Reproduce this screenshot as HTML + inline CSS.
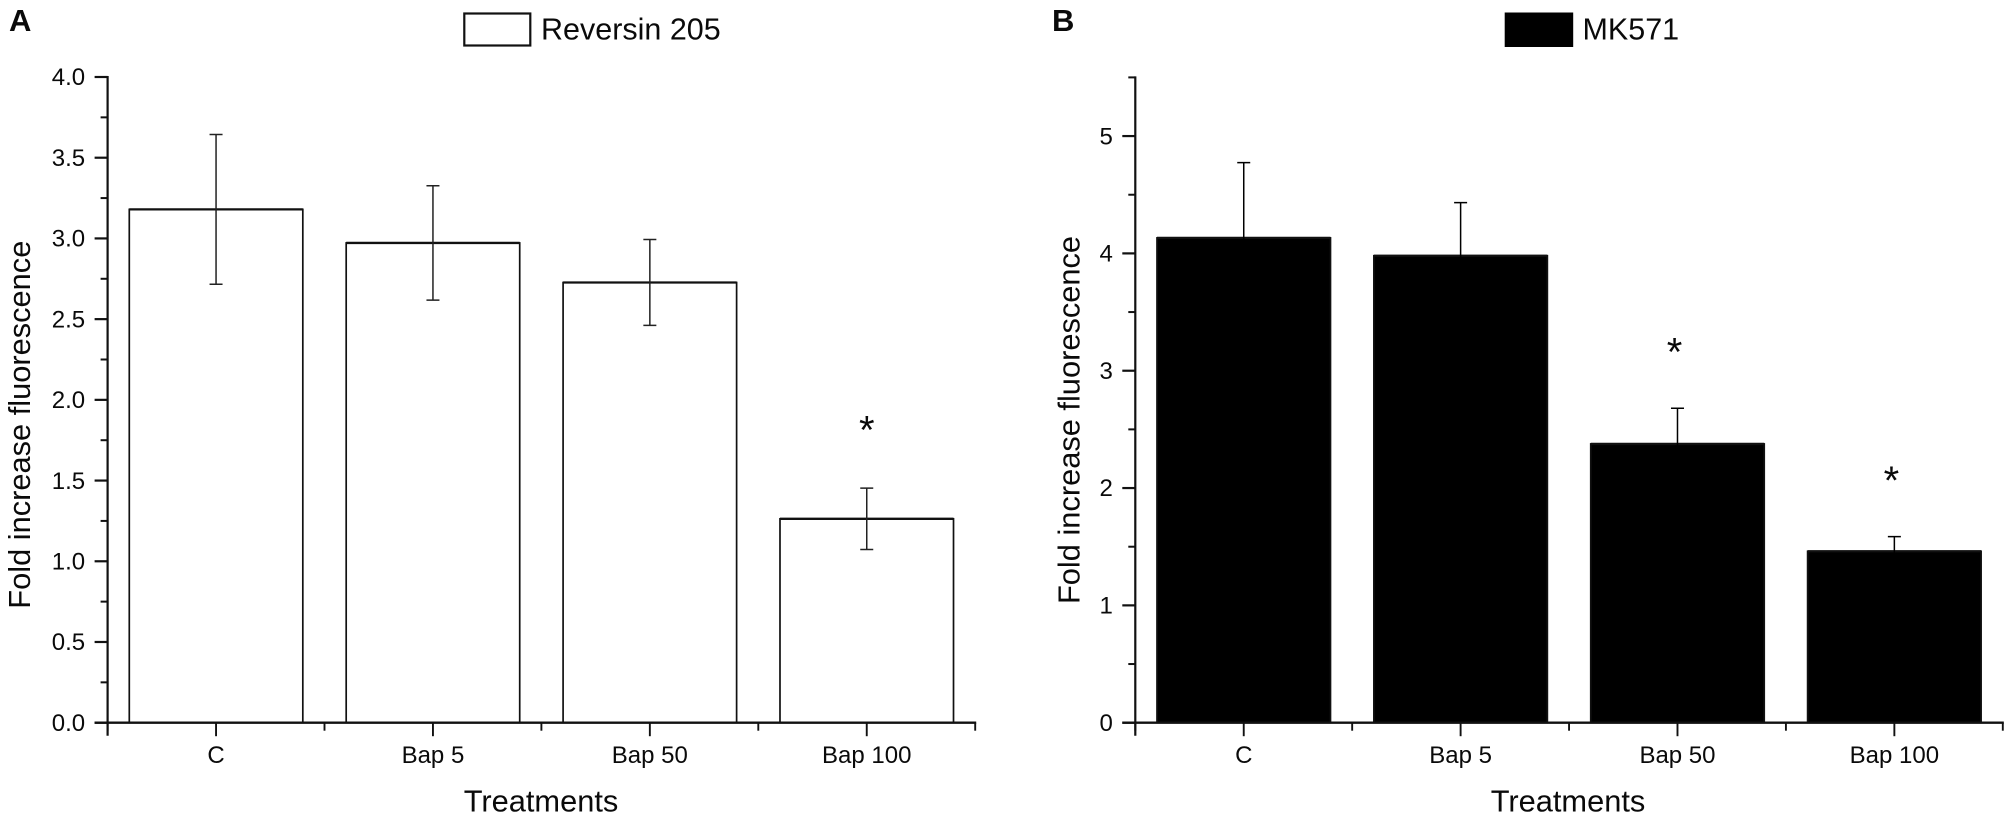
<!DOCTYPE html>
<html lang="en">
<head>
<meta charset="utf-8">
<title>Fold increase fluorescence: Reversin 205 and MK571</title>
<style>
html,body{margin:0;padding:0;background:#fff;}
body{width:2008px;height:819px;overflow:hidden;}
svg{display:block;}
text{font-family:"Liberation Sans",Arial,sans-serif;fill:#0a0a0a;}
</style>
</head>
<body>
<svg id="figure" width="2008" height="819" viewBox="0 0 2008 819" xmlns="http://www.w3.org/2000/svg">
  <rect x="0" y="0" width="2008" height="819" fill="#fff"/>
  <text x="9" y="31" font-size="31" font-weight="bold">A</text>
  <text x="1052" y="31" font-size="31" font-weight="bold">B</text>

  <rect x="464.3" y="13.5" width="66" height="32" fill="#fff" stroke="#111" stroke-width="2.2"/>
  <text x="541" y="39.5" font-size="30.5">Reversin 205</text>
  <rect x="1504.7" y="12.5" width="68.5" height="34.5" fill="#000"/>
  <text x="1582.5" y="39.5" font-size="30.5">MK571</text>

  <text transform="translate(30,424.7) rotate(-90)" text-anchor="middle" font-size="30.8">Fold increase fluorescence</text>
  <text transform="translate(1079.6,420) rotate(-90)" text-anchor="middle" font-size="30.8">Fold increase fluorescence</text>
  <text x="541" y="811.5" text-anchor="middle" font-size="30.8">Treatments</text>
  <text x="1568" y="811.5" text-anchor="middle" font-size="30.8">Treatments</text>

  <g id="panel-a"></g>
  <g id="panel-b"></g>
</svg>
<script>
var categories = ['C', 'Bap 5', 'Bap 50', 'Bap 100'];

var valuesA = [3.18, 2.972, 2.727, 1.263];
var errorsA = [0.464, 0.354, 0.266, 0.19];
var significantA = [false, false, false, true];
var majorTicksA = [0, 0.5, 1, 1.5, 2, 2.5, 3, 3.5, 4];
var majorLabelsA = ['0.0', '0.5', '1.0', '1.5', '2.0', '2.5', '3.0', '3.5', '4.0'];
var minorTicksA = [0.25, 0.75, 1.25, 1.75, 2.25, 2.75, 3.25, 3.75];

var valuesB = [4.132, 3.98, 2.376, 1.461];
var errorsB = [0.642, 0.453, 0.304, 0.125];
var significantB = [false, false, true, true];
var majorTicksB = [0, 1, 2, 3, 4, 5];
var majorLabelsB = ['0', '1', '2', '3', '4', '5'];
var minorTicksB = [0.5, 1.5, 2.5, 3.5, 4.5, 5.5];

var NS = 'http://www.w3.org/2000/svg';

function make(parent, tag, geometry) {
  var el = document.createElementNS(NS, tag);
  for (var k in geometry) { el.setAttribute(k, geometry[k]); }
  parent.appendChild(el);
  return el;
}

function drawPanel(groupId, o) {
  var g = document.getElementById(groupId);
  var n = o.values.length;
  var step = (o.right - o.left) / n;
  var yScale = function (v) { return o.zero - v * (o.zero - o.top) / o.max; };
  var xScale = function (i) { return o.left + (i + 0.5) * step; };
  var barWidth = step * 0.8;
  var ink = '#111';
  var el;

  for (var i = 0; i < n; i++) {
    var cx = xScale(i);
    var yTop = yScale(o.values[i]);
    el = make(g, 'rect', {
      x: cx - barWidth / 2, y: yTop, width: barWidth, height: o.zero - yTop,
      fill: o.fill, stroke: ink, 'stroke-width': 1.7
    });
    
    

    el = make(g, 'line', {
      x1: cx - barWidth / 2, x2: cx + barWidth / 2, y1: yTop, y2: yTop,
      stroke: ink, 'stroke-width': 2.3
    });
    
    

    var hi = yScale(o.values[i] + o.errors[i]);
    var lo = yScale(o.values[i] - o.errors[i]);
    el = make(g, 'path', {
      d: 'M' + cx + ' ' + hi + 'V' + lo +
         'M' + (cx - 6.5) + ' ' + hi + 'H' + (cx + 6.5) +
         'M' + (cx - 6.5) + ' ' + lo + 'H' + (cx + 6.5),
      fill: 'none', stroke: o.errorInk, 'stroke-width': 1.5
    });
    
    

    if (o.significant[i]) {
      el = make(g, 'text', {
        x: cx + o.starDx, y: hi - o.starRise + 17.3, 'text-anchor': 'middle', 'font-size': 40
      });
      el.textContent = '*';
      
      
    }
  }

  el = make(g, 'line', {
    x1: o.left, x2: o.left, y1: o.top - 1, y2: o.zero + 13, stroke: ink, 'stroke-width': 2.2
  });
  
  

  el = make(g, 'line', {
    x1: o.left - 13, x2: o.right + 1, y1: o.zero, y2: o.zero, stroke: ink, 'stroke-width': 2.4
  });
  
  

  o.majorTicks.forEach(function (v, j) {
    var y = yScale(v);
    var tick = make(g, 'line', {
      x1: o.left - 13, x2: o.left, y1: y, y2: y, stroke: ink, 'stroke-width': 2.2
    });
    
    
    var label = make(g, 'text', {
      x: o.left - 22.5, y: y + 8.2, 'text-anchor': 'end', 'font-size': 24
    });
    label.textContent = o.majorLabels[j];
    
    
  });

  o.minorTicks.forEach(function (v) {
    var y = yScale(v);
    var tick = make(g, 'line', {
      x1: o.left - 7, x2: o.left, y1: y, y2: y, stroke: ink, 'stroke-width': 2
    });
    
    
  });

  for (var b = 0; b <= n; b++) {
    var bx = o.left + b * step;
    var edgeTick = make(g, 'line', {
      x1: bx, x2: bx, y1: o.zero, y2: o.zero + 8, stroke: ink, 'stroke-width': 1.9
    });
    
    
  }

  o.categories.forEach(function (name, j) {
    var x = xScale(j);
    var tick = make(g, 'line', {
      x1: x, x2: x, y1: o.zero, y2: o.zero + 13.5, stroke: ink, 'stroke-width': 1.9
    });
    
    
    var label = make(g, 'text', {
      x: x, y: o.zero + 40.5, 'text-anchor': 'middle', 'font-size': 24
    });
    label.textContent = name;
    
    
  });
}

drawPanel('panel-a', {
  id: 'a', left: 107.6, right: 975.2, zero: 722.7, top: 77, max: 4, fill: '#fff',
  errorInk: '#222', starDx: 0, starRise: 62,
  categories: categories, values: valuesA, errors: errorsA, significant: significantA,
  majorTicks: majorTicksA, majorLabels: majorLabelsA, minorTicks: minorTicksA
});
drawPanel('panel-b', {
  id: 'b', left: 1135.3, right: 2002.8, zero: 722.7, top: 77.4, max: 5.5, fill: '#000',
  errorInk: '#000', starDx: -3, starRise: 60,
  categories: categories, values: valuesB, errors: errorsB, significant: significantB,
  majorTicks: majorTicksB, majorLabels: majorLabelsB, minorTicks: minorTicksB
});
</script>
</body>
</html>
